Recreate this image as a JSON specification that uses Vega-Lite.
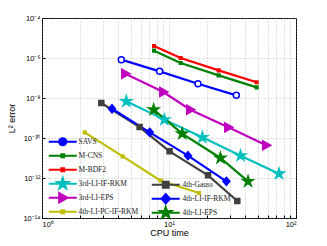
{
  "$schema": "https://vega.github.io/schema/vega-lite/v6.json",
  "autosize": "none",
  "width": 254,
  "height": 200,
  "padding": {"left": 42, "top": 18, "right": 31, "bottom": 28},
  "background": "white",
  "config": {
    "view": {"stroke": "black", "strokeWidth": 1},
    "axis": {"labelFont": "Liberation Sans", "titleFont": "Liberation Sans", "labelFontSize": 7.5, "titleFontSize": 9, "titleFontWeight": "normal", "labelColor": "black", "titleColor": "black", "domain": false, "tickColor": "black", "tickSize": -3, "gridColor": "#9a9a9a", "gridDash": [1, 2], "gridWidth": 0.6, "labelOverlap": false}
  },
  "data": {"values": [
    {"s": "SAVS", "x": 4.21, "y": 8.25e-7}, {"s": "SAVS", "x": 8.44, "y": 2.15e-7}, {"s": "SAVS", "x": 16.9, "y": 5.2e-8}, {"s": "SAVS", "x": 33.9, "y": 1.36e-8},
    {"s": "M-CNS", "x": 7.62, "y": 2.33e-6}, {"s": "M-CNS", "x": 12.36, "y": 5.6e-7}, {"s": "M-CNS", "x": 24.6, "y": 1.36e-7}, {"s": "M-CNS", "x": 49.0, "y": 3.4e-8},
    {"s": "M-BDF2", "x": 7.62, "y": 3.98e-6}, {"s": "M-BDF2", "x": 12.36, "y": 1.0e-6}, {"s": "M-BDF2", "x": 24.6, "y": 2.4e-7}, {"s": "M-BDF2", "x": 49.0, "y": 6.1e-8},
    {"s": "3rd-LI-IF-RKM", "x": 4.61, "y": 6.8e-9}, {"s": "3rd-LI-IF-RKM", "x": 9.19, "y": 8.3e-10}, {"s": "3rd-LI-IF-RKM", "x": 18.3, "y": 1.08e-10}, {"s": "3rd-LI-IF-RKM", "x": 36.6, "y": 1.31e-11}, {"s": "3rd-LI-IF-RKM", "x": 73.5, "y": 1.65e-12},
    {"s": "3rd-LI-EPS", "x": 4.53, "y": 1.65e-7}, {"s": "3rd-LI-EPS", "x": 9.02, "y": 2.0e-8}, {"s": "3rd-LI-EPS", "x": 14.7, "y": 2.6e-9}, {"s": "3rd-LI-EPS", "x": 29.3, "y": 3.4e-10}, {"s": "3rd-LI-EPS", "x": 58.3, "y": 4.3e-11},
    {"s": "4th-LI-PC-IF-RKM", "x": 2.17, "y": 1.92e-10}, {"s": "4th-LI-PC-IF-RKM", "x": 4.32, "y": 1.21e-11}, {"s": "4th-LI-PC-IF-RKM", "x": 8.6, "y": 7.35e-13}, {"s": "4th-LI-PC-IF-RKM", "x": 17.2, "y": 1.78e-13},
    {"s": "4th-Gauss", "x": 2.93, "y": 5.6e-9}, {"s": "4th-Gauss", "x": 5.87, "y": 3.5e-10}, {"s": "4th-Gauss", "x": 10.1, "y": 2.15e-11}, {"s": "4th-Gauss", "x": 20.3, "y": 1.36e-12}, {"s": "4th-Gauss", "x": 34.5, "y": 7.1e-14},
    {"s": "4th-LI-IF-RKM", "x": 3.56, "y": 2.9e-9}, {"s": "4th-LI-IF-RKM", "x": 7.05, "y": 1.92e-10}, {"s": "4th-LI-IF-RKM", "x": 14.1, "y": 1.31e-11}, {"s": "4th-LI-IF-RKM", "x": 28.3, "y": 6.8e-13},
    {"s": "4th-LI-EPS", "x": 7.57, "y": 2.6e-9}, {"s": "4th-LI-EPS", "x": 12.7, "y": 1.65e-10}, {"s": "4th-LI-EPS", "x": 25.4, "y": 1.0e-11}, {"s": "4th-LI-EPS", "x": 41.9, "y": 6.8e-13}
  ]},
  "encoding": {
    "x": {"field": "x", "type": "quantitative", "title": "CPU time",
      "scale": {"type": "log", "domain": [1, 100], "nice": false},
      "axis": {"values": [1,2,3,4,5,6,7,8,9,10,20,30,40,50,60,70,80,90,100], "labelPadding": 5, "titlePadding": 1,
        "labelExpr": "datum.value < 1.5 ? '10⁰' : (datum.value > 9.5 && datum.value < 10.5) ? '10¹' : datum.value > 95 ? '10²' : ''"}},
    "y": {"field": "y", "type": "quantitative", "title": "L² error",
      "scale": {"type": "log", "domain": [1e-14, 1e-4], "nice": false},
      "axis": {"values": [1e-14, 1e-12, 1e-10, 1e-8, 1e-6, 1e-4], "labelPadding": 5, "titlePadding": 6,
        "labelExpr": "datum.value < 1e-13 ? '10⁻¹⁴' : datum.value < 1e-11 ? '10⁻¹²' : datum.value < 1e-9 ? '10⁻¹⁰' : datum.value < 1e-7 ? '10⁻⁸' : datum.value < 1e-5 ? '10⁻⁶' : '10⁻⁴'"}}
  },
  "layer": [
    {
      "mark": {"type": "line", "strokeWidth": 2.2},
      "encoding": {
        "color": {"field": "s", "type": "nominal", "legend": null,
          "scale": {"domain": ["SAVS", "M-CNS", "M-BDF2", "3rd-LI-IF-RKM", "3rd-LI-EPS", "4th-LI-PC-IF-RKM", "4th-Gauss", "4th-LI-IF-RKM", "4th-LI-EPS"],
            "range": ["#0000ff", "#008000", "#ff0000", "#00bfbf", "#bf00bf", "#bfbf00", "#404040", "#0000ff", "#008000"]}}
      }
    },
    {
      "mark": {"type": "point", "filled": true, "size": 4, "strokeWidth": 1.5, "opacity": 1},
      "encoding": {
        "shape": {"field": "s", "type": "nominal", "legend": null,
          "scale": {"domain": ["SAVS", "M-CNS", "M-BDF2", "3rd-LI-IF-RKM", "3rd-LI-EPS", "4th-LI-PC-IF-RKM", "4th-Gauss", "4th-LI-IF-RKM", "4th-LI-EPS"],
            "range": [
              "M-3,0A3,3 0 1,0 3,0A3,3 0 1,0 -3,0Z",
              "M-1.3,-1.3H1.3V1.3H-1.3Z",
              "M-1.3,-1.3H1.3V1.3H-1.3Z",
              "M0,-5.5L1.24,-1.7L5.23,-1.7L2,0.65L3.23,4.45L0,2.1L-3.23,4.45L-2,0.65L-5.23,-1.7L-1.24,-1.7Z",
              "M-3.5,-4.5L4.5,0L-3.5,4.5Z",
              "M-1.3,-1.3H1.3V1.3H-1.3Z",
              "M-2.5,-2.5H2.5V2.5H-2.5Z",
              "M0,-4L3.5,0L0,4L-3.5,0Z",
              "M0,-5.5L1.24,-1.7L5.23,-1.7L2,0.65L3.23,4.45L0,2.1L-3.23,4.45L-2,0.65L-5.23,-1.7L-1.24,-1.7Z"
            ]}},
        "fill": {"field": "s", "type": "nominal", "legend": null,
          "scale": {"domain": ["SAVS", "M-CNS", "M-BDF2", "3rd-LI-IF-RKM", "3rd-LI-EPS", "4th-LI-PC-IF-RKM", "4th-Gauss", "4th-LI-IF-RKM", "4th-LI-EPS"],
            "range": ["#ffffff", "#008000", "#ff0000", "#00bfbf", "#bf00bf", "#bfbf00", "#404040", "#0000ff", "#008000"]}},
        "stroke": {"field": "s", "type": "nominal", "legend": null,
          "scale": {"domain": ["SAVS", "M-CNS", "M-BDF2", "3rd-LI-IF-RKM", "3rd-LI-EPS", "4th-LI-PC-IF-RKM", "4th-Gauss", "4th-LI-IF-RKM", "4th-LI-EPS"],
            "range": ["#0000ff", "#008000", "#ff0000", "#00bfbf", "#bf00bf", "#bfbf00", "#404040", "#0000ff", "#008000"]}}
      }
    },
    {
      "transform": [{"filter": "indexof(['SAVS','M-CNS','M-BDF2','3rd-LI-IF-RKM','3rd-LI-EPS','4th-LI-PC-IF-RKM'], datum.s) >= 0"}],
      "mark": {"type": "point", "filled": true, "size": 4, "opacity": 0, "strokeWidth": 2.2},
      "encoding": {
        "shape": {"field": "s", "type": "nominal",
          "scale": {"domain": ["SAVS", "M-CNS", "M-BDF2", "3rd-LI-IF-RKM", "3rd-LI-EPS", "4th-LI-PC-IF-RKM"],
            "range": [
              "M-14,0H14M-3.5,0A3.5,3.5 0 1,0 3.5,0A3.5,3.5 0 1,0 -3.5,0Z",
              "M-14,0H14M-1.3,-1.3H1.3V1.3H-1.3Z",
              "M-14,0H14M-1.3,-1.3H1.3V1.3H-1.3Z",
              "M-14,0H14M0,-5.5L1.24,-1.7L5.23,-1.7L2,0.65L3.23,4.45L0,2.1L-3.23,4.45L-2,0.65L-5.23,-1.7L-1.24,-1.7Z",
              "M-14,0H14M-3.5,-4.5L4.5,0L-3.5,4.5Z",
              "M-14,0H14M-1.3,-1.3H1.3V1.3H-1.3Z"
            ]},
          "legend": {"title": null, "orient": "none", "legendX": 17, "legendY": 120, "padding": 0, "symbolSize": 4, "symbolOpacity": 1, "symbolStrokeWidth": 2.2, "labelOffset": 12, "rowPadding": -6, "gridAlign": "all", "labelFont": "Liberation Serif", "labelFontSize": 7.5, "labelColor": "#222222", "symbolLimit": 0}},
        "fill": {"field": "s", "type": "nominal",
          "scale": {"domain": ["SAVS", "M-CNS", "M-BDF2", "3rd-LI-IF-RKM", "3rd-LI-EPS", "4th-LI-PC-IF-RKM"],
            "range": ["#0000ff", "#008000", "#ff0000", "#00bfbf", "#bf00bf", "#bfbf00"]}},
        "stroke": {"field": "s", "type": "nominal",
          "scale": {"domain": ["SAVS", "M-CNS", "M-BDF2", "3rd-LI-IF-RKM", "3rd-LI-EPS", "4th-LI-PC-IF-RKM"],
            "range": ["#0000ff", "#008000", "#ff0000", "#00bfbf", "#bf00bf", "#bfbf00"]}}
      }
    },
    {
      "transform": [{"filter": "indexof(['4th-Gauss','4th-LI-IF-RKM','4th-LI-EPS'], datum.s) >= 0"}],
      "mark": {"type": "point", "filled": true, "size": 4, "opacity": 0, "strokeWidth": 2.2},
      "encoding": {
        "shape": {"field": "s", "type": "nominal",
          "scale": {"domain": ["4th-Gauss", "4th-LI-IF-RKM", "4th-LI-EPS"],
            "range": [
              "M-14,0H14M-2.8,-2.8H2.8V2.8H-2.8Z",
              "M-14,0H14M0,-4.5L4,0L0,4.5L-4,0Z",
              "M-14,0H14M0,-5.5L1.24,-1.7L5.23,-1.7L2,0.65L3.23,4.45L0,2.1L-3.23,4.45L-2,0.65L-5.23,-1.7L-1.24,-1.7Z"
            ]},
          "legend": {"title": null, "orient": "none", "legendX": 120, "legendY": 163, "padding": 0, "symbolSize": 4, "symbolOpacity": 1, "symbolStrokeWidth": 2.2, "labelOffset": 13, "rowPadding": -6, "gridAlign": "all", "labelFont": "Liberation Serif", "labelFontSize": 7.5, "labelColor": "#222222", "symbolLimit": 0}},
        "fill": {"field": "s", "type": "nominal",
          "scale": {"domain": ["4th-Gauss", "4th-LI-IF-RKM", "4th-LI-EPS"],
            "range": ["#404040", "#0000ff", "#008000"]}},
        "stroke": {"field": "s", "type": "nominal",
          "scale": {"domain": ["4th-Gauss", "4th-LI-IF-RKM", "4th-LI-EPS"],
            "range": ["#404040", "#0000ff", "#008000"]}}
      }
    }
  ],
  "resolve": {
    "scale": {"shape": "independent", "fill": "independent", "stroke": "independent"},
    "legend": {"shape": "independent", "fill": "independent", "stroke": "independent"}
  }
}
